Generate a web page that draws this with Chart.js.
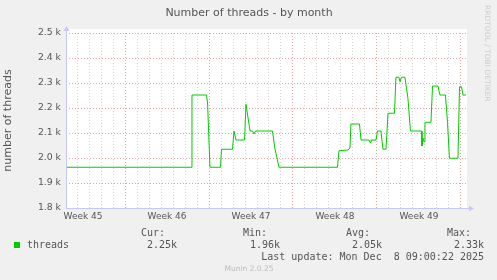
<!DOCTYPE html>
<html>
<head>
<meta charset="utf-8">
<title>Number of threads - by month</title>
<script src="https://cdn.jsdelivr.net/npm/chart.js@4/dist/chart.umd.min.js"></script>
<style>
    html, body { margin: 0; padding: 0; background: #f0f0f0; }
    canvas { display: block; }
</style>
</head>
<body>
<canvas id="threadsChart" width="497" height="280"></canvas>
<script>
// days since Monday of week 45, and thread count at that moment
const days = [
    2.08, 12.5, 12.58, 13.79, 13.88, 14.08, 14.96, 15.04, 15.96, 16.08,
    16.25, 16.96, 17.08, 17.42, 17.63, 17.75, 17.88, 19.29, 19.5, 19.67,
    19.83, 24.71, 24.83, 25.58, 25.75, 25.83, 26.54, 26.67, 27.33, 27.42,
    27.5, 27.92, 28.04, 28.33, 28.5, 28.75, 28.92, 29.46, 29.58, 29.83,
    29.92, 30.04, 30.33, 30.58, 30.79, 31.71, 31.75, 31.83, 31.92, 32.0,
    32.5, 32.63, 33.08, 33.25, 33.71, 33.88, 34.04, 34.75, 34.88, 35.04,
    35.17, 35.42,
];
const threads = [
    1963, 1963, 2252, 2252, 2220, 1963, 1963, 2035, 2035, 2108,
    2072, 2072, 2215, 2108, 2108, 2096, 2108, 2108, 2035, 2000,
    1963, 1963, 2029, 2032, 2040, 2136, 2136, 2072, 2072, 2062,
    2072, 2072, 2108, 2108, 2035, 2035, 2179, 2179, 2323, 2323,
    2305, 2323, 2323, 2239, 2108, 2108, 2048, 2080, 2065, 2143,
    2143, 2288, 2288, 2252, 2252, 2143, 1999, 1999, 2285, 2285,
    2252, 2252,
];
const weekLabels = ["Week 45", "Week 46", "Week 47", "Week 48", "Week 49"];
const yTicks = [1800, 1900, 2000, 2100, 2200, 2300, 2400, 2500];
const legendHeaders = ["Cur:", "Min:", "Avg:", "Max:"];
const legendValues = ["2.25k", "1.96k", "2.05k", "2.33k"];

const GREEN = "#00cc00";
const TEXT = "#555555";
const RED_GRID = "#e6a3a3";
const GRAY_GRID = "#d6d6d6";
const AXIS = "#c8c8f8";

const points = days.map((d, i) => ({ x: d, y: threads[i] }));

const munin = {
    id: "munin",
    beforeDraw(chart) {
        const { ctx, chartArea: a } = chart;
        ctx.save();
        ctx.fillStyle = "#f0f0f0";
        ctx.fillRect(0, 0, chart.width, chart.height);
        ctx.fillStyle = "#ffffff";
        ctx.fillRect(a.left, a.top - 4, a.right - a.left + 1, a.bottom - a.top + 4);
        ctx.restore();
    },
    afterDraw(chart) {
        const { ctx, chartArea: a } = chart;
        ctx.save();

        // axes with arrows
        ctx.strokeStyle = AXIS;
        ctx.fillStyle = AXIS;
        ctx.lineWidth = 1;
        ctx.beginPath();
        ctx.moveTo(a.left + 0.5, a.bottom + 0.5);
        ctx.lineTo(a.left + 0.5, a.top - 3);
        ctx.moveTo(a.left, a.bottom + 0.5);
        ctx.lineTo(a.right + 4, a.bottom + 0.5);
        ctx.stroke();
        ctx.beginPath();
        ctx.moveTo(a.left + 0.5, a.top - 7);
        ctx.lineTo(a.left - 2.5, a.top - 2);
        ctx.lineTo(a.left + 3.5, a.top - 2);
        ctx.closePath();
        ctx.fill();
        ctx.beginPath();
        ctx.moveTo(a.right + 8, a.bottom + 0.5);
        ctx.lineTo(a.right + 3, a.bottom - 2.5);
        ctx.lineTo(a.right + 3, a.bottom + 3.5);
        ctx.closePath();
        ctx.fill();

        // title
        ctx.fillStyle = TEXT;
        ctx.font = '11px "DejaVu Sans"';
        ctx.textAlign = "center";
        ctx.textBaseline = "middle";
        ctx.fillText("Number of threads - by month", 249, 13);

        // legend
        ctx.font = '10px "DejaVu Sans Mono"';
        ctx.textAlign = "left";
        const headerX = [141, 243, 346, 447];
        const valueX = [177, 280, 382, 484];
        legendHeaders.forEach((h, i) => ctx.fillText(h, headerX[i], 233));
        ctx.fillText("threads", 27, 245);
        ctx.textAlign = "right";
        legendValues.forEach((v, i) => ctx.fillText(v, valueX[i], 245));
        ctx.fillText("Last update: Mon Dec  8 09:00:22 2025", 484, 257.5);

        ctx.fillStyle = GREEN;
        ctx.fillRect(14, 242, 6, 6);

        ctx.fillStyle = "#bbbbbb";
        ctx.font = '7.5px "DejaVu Sans"';
        ctx.textAlign = "center";
        ctx.fillText("Munin 2.0.25", 249, 269);

        // rrdtool credit
        ctx.fillStyle = "#cccccc";
        ctx.font = '7.5px "DejaVu Sans"';
        ctx.textAlign = "left";
        ctx.translate(487, 5);
        ctx.rotate(Math.PI / 2);
        ctx.fillText("RRDTOOL / TOBI OETIKER", 0, 0);

        ctx.restore();
    },
};

new Chart(document.getElementById("threadsChart"), {
    type: "line",
    data: {
        datasets: [
            {
                label: "threads",
                data: points,
                borderColor: GREEN,
                borderWidth: 1,
                pointRadius: 0,
                tension: 0,
                fill: false,
            },
        ],
    },
    options: {
        responsive: false,
        animation: false,
        devicePixelRatio: 1,
        layout: {
            padding: { left: 0, right: 31, top: 33, bottom: 0 },
        },
        plugins: {
            legend: { display: false },
            tooltip: { enabled: false },
        },
        scales: {
            x: {
                type: "linear",
                min: 2.08,
                max: 35.42,
                afterFit(scale) {
                    scale.height = 72;
                },
                afterBuildTicks(scale) {
                    const ticks = [];
                    for (let v = 2.5; v <= 35.4; v += 0.5) {
                        ticks.push({ value: v });
                    }
                    scale.ticks = ticks;
                },
                grid: {
                    drawTicks: false,
                    color(ctx) {
                        const v = ctx.tick.value;
                        if (v % 7 === 0) return RED_GRID;
                        if (Number.isInteger(v)) return GRAY_GRID;
                        return "rgba(0,0,0,0)";
                    },
                },
                border: { display: false, dash: [1, 2] },
                ticks: {
                    autoSkip: false,
                    maxRotation: 0,
                    padding: 3,
                    color: TEXT,
                    font: { family: "DejaVu Sans", size: 9 },
                    callback(value) {
                        const w = (value - 3.5) / 7;
                        return Number.isInteger(w) ? weekLabels[w] || "" : "";
                    },
                },
            },
            y: {
                min: 1800,
                max: 2500,
                afterFit(scale) {
                    scale.width = 66;
                },
                afterBuildTicks(scale) {
                    scale.ticks = yTicks.map((v) => ({ value: v }));
                },
                grid: {
                    drawTicks: false,
                    color: RED_GRID,
                },
                border: { display: false, dash: [1, 2] },
                title: {
                    display: true,
                    text: "number of threads",
                    color: TEXT,
                    font: { family: "DejaVu Sans", size: 11 },
                    padding: { top: 2, bottom: 0 },
                },
                ticks: {
                    padding: 5,
                    color: TEXT,
                    font: { family: "DejaVu Sans", size: 9.3 },
                    callback(value) {
                        return (value / 1000).toFixed(1) + " k";
                    },
                },
            },
        },
    },
    plugins: [munin],
});
</script>
</body>
</html>
